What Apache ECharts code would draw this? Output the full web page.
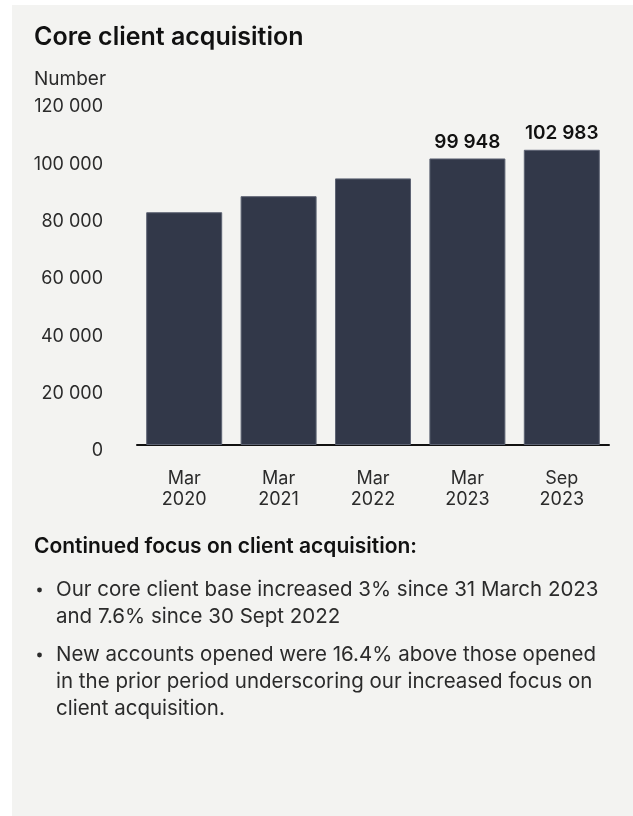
<!DOCTYPE html>
<html>
<head>
<meta charset="utf-8">
<script src="https://cdn.jsdelivr.net/npm/echarts@6/dist/echarts.min.js"></script>
<style>
  html, body { margin: 0; padding: 0; background: #ffffff; }
  #chart { width: 633px; height: 816px; }
</style>
</head>
<body>
<div id="chart"></div>
<script>
// chart data
const categories = ['Mar\n2020', 'Mar\n2021', 'Mar\n2022', 'Mar\n2023', 'Sep\n2023']
const clients = [81200, 86800, 93000, 99948, 102983]
const showValue = [false, false, false, true, true]
const yTicks = [0, 20000, 40000, 60000, 80000, 100000, 120000]

const title = 'Core client acquisition'
const unitName = 'Number'
const notesHeading = 'Continued focus on client acquisition:'
const bullets = [
  ['Our core client base increased 3% since 31 March 2023', 'and 7.6% since 30 Sept 2022'],
  ['New accounts opened were 16.4% above those opened', 'in the prior period underscoring our increased focus on', 'client acquisition.']
]

const font = 'Inter, "Noto Sans", sans-serif'
const barColor = '#323849'

function spaced (v) {
  return String(v).replace(/\B(?=(\d{3})+(?!\d))/g, ' ')
}

const dom = document.getElementById('chart')
const chart = echarts.init(dom, null, { renderer: 'canvas' })

// side text built as graphic elements
const graphics = [
  { type: 'rect', left: 12, top: 5, z: -10, shape: { width: 621, height: 811 }, style: { fill: '#f3f3f1' } },
  { type: 'text', left: 34, top: 25, style: { text: title, font: '600 25px ' + font, fill: '#111111' } },
  { type: 'text', left: 34, top: 70, style: { text: unitName, font: '19px ' + font, fill: '#2b2b2b' } },
  { type: 'text', left: 34, top: 536, style: { text: notesHeading, font: '600 21px ' + font, fill: '#111111' } }
]
const lineStep = 27
let baseline = 595
bullets.forEach(lines => {
  graphics.push({ type: 'circle', shape: { cx: 39.5, cy: baseline - 5, r: 2.4 }, style: { fill: '#2b2b2b' } })
  lines.forEach((line, i) => {
    graphics.push({
      type: 'text', left: 56, top: baseline - 16 + i * lineStep,
      style: { text: line, font: '20.5px ' + font, fill: '#2b2b2b' }
    })
  })
  baseline += (lines.length - 1) * lineStep + 38
})

const option = {
  backgroundColor: '#ffffff',
  animation: false,
  textStyle: { fontFamily: font },
  grid: { left: 137, right: 24, top: 101, bottom: 371, containLabel: false },
  xAxis: {
    type: 'category',
    data: categories,
    axisLine: { show: true, lineStyle: { color: '#111111', width: 2 } },
    axisTick: { show: false },
    axisLabel: {
      color: '#2b2b2b', fontSize: 18, lineHeight: 21, margin: 23, fontFamily: font
    }
  },
  yAxis: {
    type: 'value',
    min: yTicks[0],
    max: yTicks[yTicks.length - 1],
    interval: yTicks[1] - yTicks[0],
    axisLine: { show: false },
    axisTick: { show: false },
    splitLine: { show: false },
    axisLabel: {
      color: '#2b2b2b', fontSize: 18, margin: 34, fontFamily: font,
      verticalAlign: 'top', lineHeight: 12,
      formatter: v => spaced(v)
    }
  },
  series: [
    {
      type: 'bar',
      barWidth: 76,
      data: clients.map((v, i) => ({
        value: v,
        label: {
          show: showValue[i],
          position: 'top',
          distance: 7,
          color: '#111111',
          fontSize: 19,
          fontWeight: 600,
          fontFamily: font,
          formatter: p => spaced(p.value)
        }
      })),
      itemStyle: { color: barColor, borderColor: '#5d6373', borderWidth: 1 }
    }
  ],
  graphic: graphics
}

chart.setOption(option)
window.addEventListener('resize', () => chart.resize())
</script>
</body>
</html>
